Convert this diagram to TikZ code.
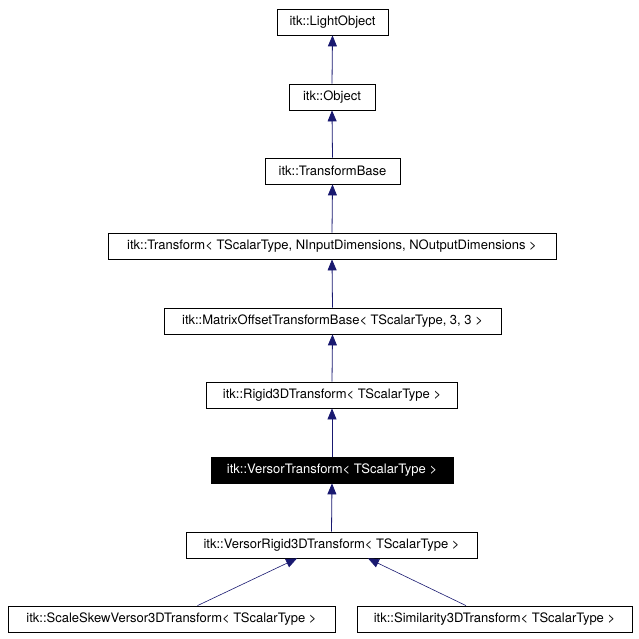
\documentclass[tikz,border=0pt]{standalone}
\usepackage{fontspec}
\setmainfont{TeX Gyre Heros}
\usetikzlibrary{arrows.meta}
\definecolor{edgeblue}{RGB}{25,25,112}
\begin{document}
\begin{tikzpicture}[x=1pt,y=-1pt,
  cls/.style={draw=black,line width=0.8pt,fill=white,minimum height=26pt,inner sep=0pt,font=\fontsize{13}{15}\selectfont,text=black},
  cur/.style={cls,fill=black,text=white},
  inh/.style={draw=edgeblue,line width=0.8pt,-{Triangle[length=11pt,width=9pt]},color=edgeblue}]
\useasboundingbox (0,0) rectangle (639,639);
\node[cls,minimum width=111pt] (lo) at (332.5,22) {itk::LightObject};
\node[cls,minimum width=86pt] (ob) at (332,97) {itk::Object};
\node[cls,minimum width=135pt] (tb) at (332.5,171) {itk::TransformBase};
\node[cls,minimum width=448pt] (tr) at (332,246) {itk::Transform< TScalarType, NInputDimensions, NOutputDimensions >};
\node[cls,minimum width=337pt] (mo) at (332.5,321) {itk::MatrixOffsetTransformBase< TScalarType, 3, 3 >};
\node[cls,minimum width=251pt] (ri) at (332,395) {itk::Rigid3DTransform< TScalarType >};
\node[cur,minimum width=242pt] (vt) at (332,470) {itk::VersorTransform< TScalarType >};
\node[cls,minimum width=291pt] (vr) at (331.5,545) {itk::VersorRigid3DTransform< TScalarType >};
\node[cls,minimum width=327pt] (ss) at (171.5,619) {itk::ScaleSkewVersor3DTransform< TScalarType >};
\node[cls,minimum width=275pt] (si) at (494.5,619) {itk::Similarity3DTransform< TScalarType >};
\draw[inh] (ob.north) -- (lo.south);
\draw[inh] (tb.north) -- (ob.south);
\draw[inh] (tr.north) -- (tb.south);
\draw[inh] (mo.north) -- (tr.south);
\draw[inh] (ri.north) -- (mo.south);
\draw[inh] (vt.north) -- (ri.south);
\draw[inh] (vr.north) -- (vt.south);
\draw[inh,line width=0.6pt] ([xshift=26pt]ss.north) -- ([xshift=-34.5pt]vr.south);
\draw[inh,line width=0.6pt] ([xshift=-28.5pt]si.north) -- ([xshift=36.5pt]vr.south);
\end{tikzpicture}
\end{document}
